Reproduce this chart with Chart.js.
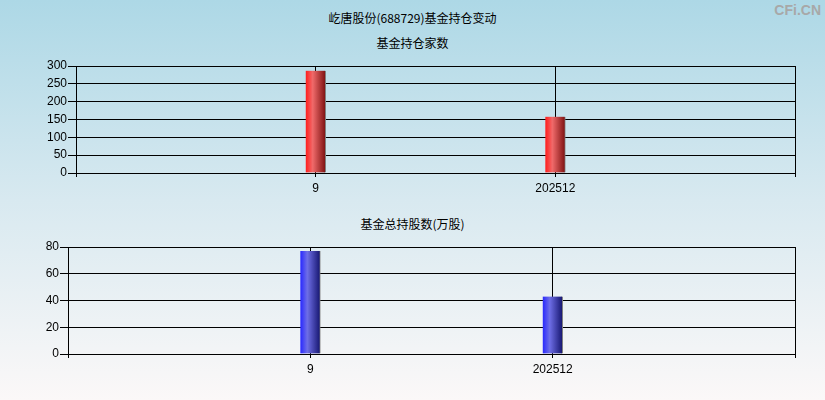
<!DOCTYPE html>
<html>
<head>
<meta charset="utf-8">
<script src="https://cdn.jsdelivr.net/npm/chart.js@4/dist/chart.umd.min.js"></script>
<style>
  html, body { margin: 0; padding: 0; }
  body {
    width: 825px; height: 400px; position: relative; overflow: hidden;
    background: linear-gradient(to bottom, #add8e6 0%, #d8e9f0 50%, #fbf8f8 100%);
    font-family: "Noto Sans CJK SC", "Liberation Sans", sans-serif;
  }
  .title { position: absolute; left: 0; width: 825px; text-align: center; font-size: 12px; color: #000; line-height: 14px; }
  .logo { position: absolute; right: 4px; top: 2px; font: bold 14px "Liberation Sans Narrow", "Liberation Sans", Arial, sans-serif; color: #a8a8a8; }
  canvas { position: absolute; left: 0; }
</style>
</head>
<body>
<div class="title" style="top:11px">屹唐股份(688729)基金持仓变动</div>
<div class="title" style="top:36px">基金持仓家数</div>
<div class="title" style="top:217px">基金总持股数(万股)</div>
<div class="logo">CFi.CN</div>
<canvas id="chartTop" width="825" height="200" style="top:0"></canvas>
<canvas id="chartBottom" width="825" height="200" style="top:200px"></canvas>
<script>
const periods = ["", "9", "202512", ""];
const fundCount = [null, 287, 158, null];
const fundShares = [null, 77, 43, null];

const tickFont = { family: "'Liberation Sans', Arial, sans-serif", size: 12 };

function barGradient(stops) {
  return function(c) {
    const chart = c.chart;
    if (!chart.chartArea) return stops[0];
    const x = chart.scales.x.getPixelForValue(c.dataIndex);
    const g = chart.ctx.createLinearGradient(x - 10, 0, x + 10, 0);
    g.addColorStop(0, stops[0]);
    g.addColorStop(0.35, stops[1]);
    g.addColorStop(1, stops[2]);
    return g;
  };
}

function makeChart(id, data, colors, max, step, pad, yWidth, xHeight) {
  return new Chart(document.getElementById(id), {
    type: "bar",
    data: {
      labels: periods,
      datasets: [{
        data: data,
        backgroundColor: barGradient(colors),
        borderColor: "#808080",
        borderWidth: { left: 0, right: 1, top: 0, bottom: 0 },
        borderSkipped: false,
        barThickness: 20
      }]
    },
    options: {
      responsive: false,
      animation: false,
      layout: { padding: { top: pad, right: 30, left: 0, bottom: 0 } },
      plugins: { legend: { display: false }, tooltip: { enabled: false } },
      scales: {
        x: {
          offset: false,
          grid: { offset: false, color: "#000", lineWidth: 1, tickLength: 4 },
          border: { color: "#000", width: 1 },
          ticks: { color: "#000", font: tickFont, padding: 4, maxRotation: 0, autoSkip: false },
          afterFit: s => { s.height = xHeight; }
        },
        y: {
          min: 0, max: max,
          grid: { color: "#000", lineWidth: 1, tickLength: 8 },
          border: { color: "#000", width: 1 },
          ticks: { color: "#000", font: tickFont, stepSize: step, padding: 1 },
          afterFit: s => { s.width = yWidth; }
        }
      }
    }
  });
}

makeChart("chartTop", fundCount, ["#ff1c1c", "#f06a6a", "#7c1010"], 300, 50, 66, 76, 27);
makeChart("chartBottom", fundShares, ["#2828ff", "#6e6ee6", "#14146e"], 80, 20, 47, 68, 46);
</script>
</body>
</html>
